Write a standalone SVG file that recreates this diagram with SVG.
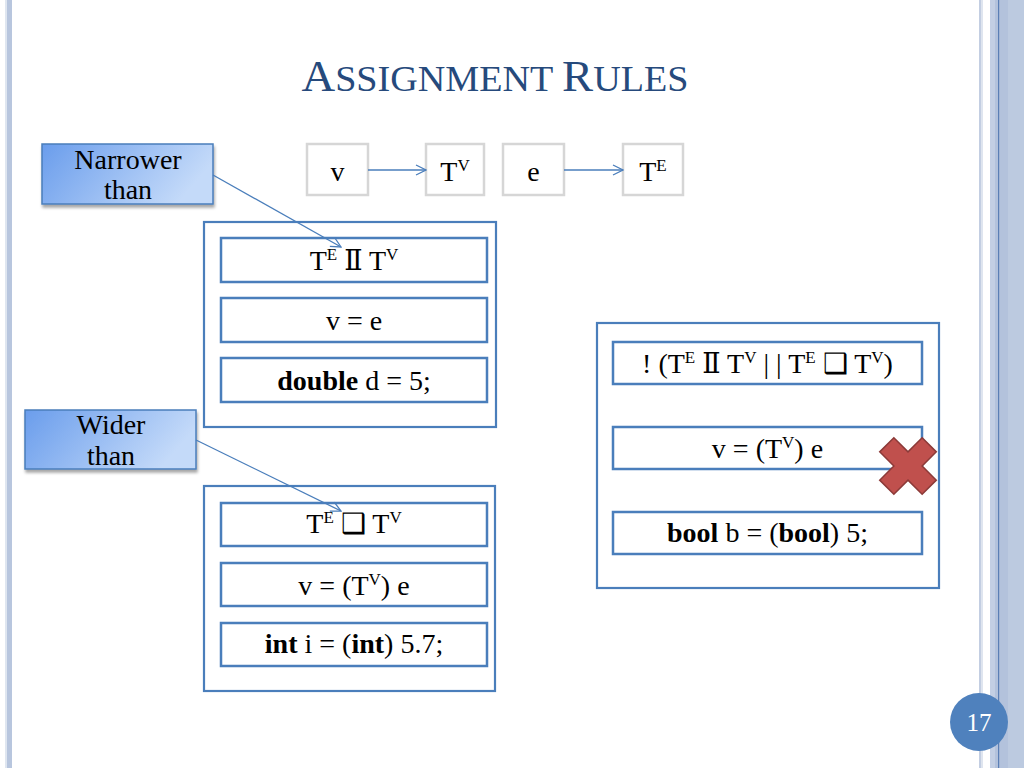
<svg xmlns="http://www.w3.org/2000/svg" width="1024" height="768" viewBox="0 0 1024 768">
<defs>
<style>
.t{font-family:"Liberation Serif","Times New Roman",serif;font-size:28px;fill:#000;text-anchor:middle}
.b{font-weight:bold}
.sup{font-size:17px}
.ii{font-family:"DejaVu Serif","Liberation Serif",serif;font-size:27px}
.outer{fill:#fff;stroke:#4a7ebb;stroke-width:2.2}
.inner{fill:#fff;stroke:#4a7ebb;stroke-width:2.5}
.gray{fill:#fff;stroke:#d6d6d6;stroke-width:2.5}
.call{fill:url(#g);stroke:#4a7ebb;stroke-width:1.5;filter:url(#sh)}
.con{fill:none;stroke:#4a7ebb;stroke-width:1.3}
</style>
<linearGradient id="g" x1="0" y1="0" x2="1" y2="0.3">
<stop offset="0" stop-color="#6a9dec"/>
<stop offset="1" stop-color="#c4daf9"/>
</linearGradient>
<filter id="sh" x="-10%" y="-10%" width="125%" height="140%">
<feDropShadow dx="1" dy="3" stdDeviation="1.5" flood-color="#000" flood-opacity="0.35"/>
</filter>
<marker id="ah" viewBox="0 0 12 12" refX="11" refY="6" markerWidth="12" markerHeight="12" markerUnits="userSpaceOnUse" orient="auto">
<path d="M1,1 L11,6 L1,11" fill="none" stroke="#4a7ebb" stroke-width="1.3"/>
</marker>
</defs>
<rect width="1024" height="768" fill="#fff"/>
<g id="borders">
<rect x="5" y="0" width="2" height="768" fill="#dfe6f0"/>
<rect x="7" y="0" width="5" height="768" fill="#b8c6de"/>
<rect x="979" y="0" width="2" height="768" fill="#c3cee2"/>
<rect x="981" y="0" width="2" height="768" fill="#dfe5ef"/>
<rect x="990" y="0" width="5" height="768" fill="#c3cfe4"/>
<rect x="995" y="0" width="13" height="768" fill="#b3c2dc"/>
<rect x="1008" y="0" width="16" height="768" fill="#bccae0"/>
<rect x="998" y="0" width="1.2" height="768" fill="#5b7fb5"/>
</g>
<g id="title">
<text x="495" y="91" textLength="387" lengthAdjust="spacingAndGlyphs" style="font-family:'Liberation Serif','Times New Roman',serif;fill:#264a7c;text-anchor:middle"><tspan font-size="44">A</tspan><tspan font-size="36">SSIGNMENT </tspan><tspan font-size="44">R</tspan><tspan font-size="36">ULES</tspan></text>
</g>
<g id="node-v">
<rect class="gray" x="307" y="144" width="61" height="51"/>
<text class="t" x="337.5" y="181">v</text>
</g>
<g id="node-TV">
<rect class="gray" x="426" y="144" width="58" height="51"/>
<text class="t" x="455" y="181">T<tspan class="sup" dy="-10">V</tspan></text>
</g>
<g id="node-e">
<rect class="gray" x="503" y="144" width="61" height="51"/>
<text class="t" x="533.5" y="181">e</text>
</g>
<g id="node-TE">
<rect class="gray" x="623" y="144" width="60" height="51"/>
<text class="t" x="653" y="181">T<tspan class="sup" dy="-10">E</tspan></text>
</g>
<g id="narrower">
<rect class="call" x="42" y="144" width="171" height="60"/>
<text class="t" x="128" y="169">Narrower</text>
<text class="t" x="128" y="199">than</text>
</g>
<g id="wider">
<rect class="call" x="25" y="410" width="171" height="59"/>
<text class="t" x="111" y="434">Wider</text>
<text class="t" x="111" y="465">than</text>
</g>
<g id="box-narrow">
<rect class="outer" x="204" y="222" width="292" height="205"/>
<rect class="inner" x="221" y="238" width="266" height="44"/>
<text class="t" x="354" y="270">T<tspan class="sup" dy="-10">E</tspan><tspan dy="10"> </tspan><tspan class="ii">Ⅱ</tspan><tspan> T</tspan><tspan class="sup" dy="-10">V</tspan></text>
<rect class="inner" x="221" y="298" width="266" height="44"/>
<text class="t" x="354" y="330">v = e</text>
<rect class="inner" x="221" y="358" width="266" height="44"/>
<text class="t" x="354" y="390"><tspan class="b">double</tspan> d = 5;</text>
</g>
<g id="box-wide">
<rect class="outer" x="204" y="486" width="291" height="205"/>
<rect class="inner" x="221" y="503" width="266" height="43"/>
<text class="t" x="354" y="533">T<tspan class="sup" dy="-10">E</tspan><tspan dy="10"> ❑ T</tspan><tspan class="sup" dy="-10">V</tspan></text>
<rect class="inner" x="221" y="563" width="266" height="43"/>
<text class="t" x="354" y="595">v = (T<tspan class="sup" dy="-10">V</tspan><tspan dy="10">) e</tspan></text>
<rect class="inner" x="221" y="623" width="266" height="43"/>
<text class="t" x="354" y="653"><tspan class="b">int</tspan> i = (<tspan class="b">int</tspan>) 5.7;</text>
</g>
<g id="box-other">
<rect class="outer" x="597" y="323" width="342" height="265"/>
<rect class="inner" x="613" y="342" width="309" height="42"/>
<text class="t" x="767.5" y="373">! (T<tspan class="sup" dy="-10">E</tspan><tspan dy="10"> </tspan><tspan class="ii">Ⅱ</tspan><tspan> T</tspan><tspan class="sup" dy="-10">V</tspan><tspan dy="10">  | |  T</tspan><tspan class="sup" dy="-10">E</tspan><tspan dy="10"> ❑ T</tspan><tspan class="sup" dy="-10">V</tspan><tspan dy="10">)</tspan></text>
<rect class="inner" x="613" y="427" width="309" height="42"/>
<text class="t" x="767.5" y="458">v = (T<tspan class="sup" dy="-10">V</tspan><tspan dy="10">) e</tspan></text>
<rect class="inner" x="613" y="512" width="309" height="42"/>
<text class="t" x="767.5" y="542"><tspan class="b">bool</tspan> b = (<tspan class="b">bool</tspan>) 5;</text>
</g>
<g id="cross">
<polygon transform="translate(908,466) rotate(45)" points="-10,-30 10,-30 10,-10 30,-10 30,10 10,10 10,30 -10,30 -10,10 -30,10 -30,-10 -10,-10" fill="#c0504d" stroke="#8c3a38" stroke-width="1.5"/>
</g>
<g id="connectors">
<line class="con" x1="368" y1="170" x2="426" y2="170" marker-end="url(#ah)"/>
<line class="con" x1="564" y1="170" x2="623" y2="170" marker-end="url(#ah)"/>
<line class="con" x1="213" y1="175" x2="341" y2="247" marker-end="url(#ah)"/>
<line class="con" x1="196" y1="440" x2="341" y2="511" marker-end="url(#ah)"/>
</g>
<g id="page-number">
<circle cx="979" cy="722" r="29" fill="#4f81bd"/>
<text x="979" y="731" style="font-family:'Liberation Serif','Times New Roman',serif;font-size:25px;fill:#fff;text-anchor:middle">17</text>
</g>
</svg>
